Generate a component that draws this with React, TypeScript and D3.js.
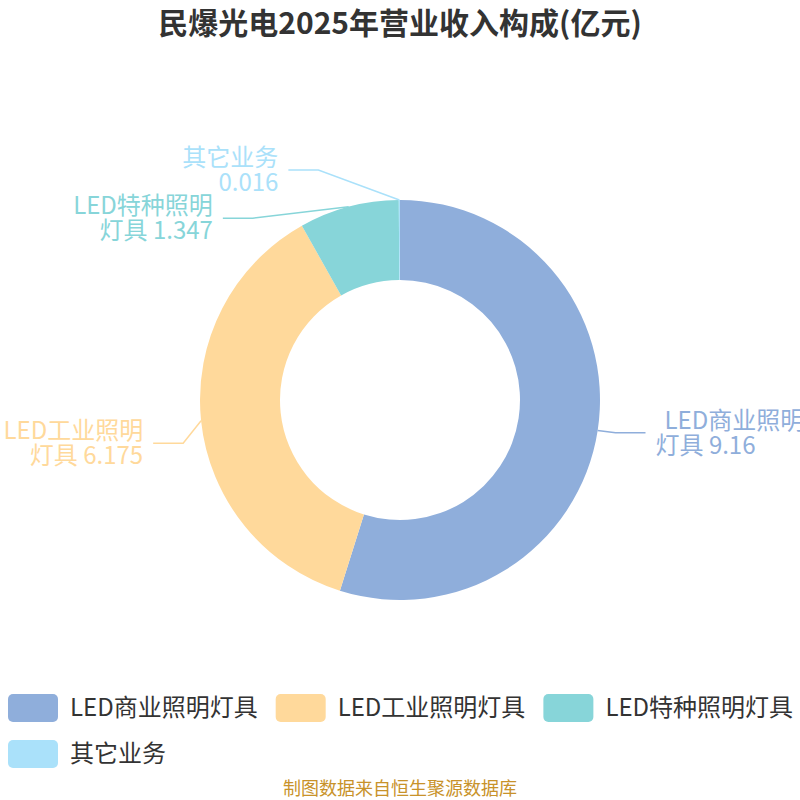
import React, { useEffect, useRef } from 'react';
import * as d3 from 'd3';

const categories = ['LED商业照明灯具', 'LED工业照明灯具', 'LED特种照明灯具', '其它业务'];
const values = [9.16, 6.175, 1.347, 0.016];
const labelLines = [
  ['LED商业照明', '灯具 9.16'],
  ['LED工业照明', '灯具 6.175'],
  ['LED特种照明', '灯具 1.347'],
  ['其它业务', '0.016'],
];
const colors = ['#8FAEDB', '#FFD99B', '#87D5D9', '#AAE1FA'];
// label layout nudges (dx, dy) applied to the leader-line elbow, like the chart lib's overlap shifting
const labelNudge: [number, number][] = [[3, 0], [-3, 21], [-92, 26], [-81, -15]];

const FONT = '"Noto Sans CJK SC", "Noto Sans", sans-serif';

export default function App() {
  const svgRef = useRef<SVGSVGElement>(null);

  useEffect(() => {
    if (!svgRef.current) return;
    const width = 800;
    const height = 800;
    const svg = d3.select(svgRef.current);
    svg.selectAll('*').remove();
    svg.attr('width', width).attr('height', height).attr('viewBox', [0, 0, width, height]);

    svg.append('rect').attr('width', width).attr('height', height).attr('fill', '#fff');

    // Title
    svg.append('text')
      .attr('x', width / 2)
      .attr('y', 23)
      .attr('dy', '0.35em')
      .attr('text-anchor', 'middle')
      .attr('font-family', FONT)
      .attr('font-weight', 'bold')
      .attr('font-size', 30)
      .attr('fill', '#333')
      .text('民爆光电2025年营业收入构成(亿元)');

    const cx = 400;
    const cy = 400;
    const outerR = 200;
    const innerR = 120;

    const pie = d3.pie<number>().sort(null).value(d => d);
    const arcs = pie(values);
    const arc = d3.arc<d3.PieArcDatum<number>>().innerRadius(innerR).outerRadius(outerR);

    const g = svg.append('g').attr('transform', `translate(${cx},${cy})`);
    g.selectAll('path.slice')
      .data(arcs)
      .enter()
      .append('path')
      .attr('class', 'slice')
      .attr('d', arc)
      .attr('fill', (_, i) => colors[i]);

    // Labels with leader lines
    arcs.forEach((a, i) => {
      const mid = (a.startAngle + a.endAngle) / 2;
      const sx = Math.sin(mid);
      const sy = -Math.cos(mid);
      const p0: [number, number] = [outerR * sx, outerR * sy];
      const p1: [number, number] = [
        (outerR + 15) * sx + labelNudge[i][0],
        (outerR + 15) * sy + labelNudge[i][1],
      ];
      const right = sx >= 0 && i === 0;
      const p2: [number, number] = [p1[0] + (right ? 30 : -30), p1[1]];
      g.append('path')
        .attr('d', d3.line()([p0, p1, p2]))
        .attr('fill', 'none')
        .attr('stroke', colors[i])
        .attr('stroke-width', 1.5);

      const t = g.append('text')
        .attr('font-family', FONT)
        .attr('font-size', 24)
        .attr('fill', colors[i])
        .attr('text-anchor', right ? 'start' : 'end');
      const tx = p2[0] + (right ? 10 : -10);
      labelLines[i].forEach((line, j) => {
        t.append('tspan')
          .attr('x', tx + (right && j === 0 ? 9 : 0))
          .attr('y', p1[1] + (j - 0.5) * 25)
          .attr('dy', '0.35em')
          .text(line);
      });
    });

    // Legend
    const legend = svg.append('g');
    let lx = 8;
    let ly = 694;
    const itemGap = 18;
    categories.forEach((name, i) => {
      const item = legend.append('g');
      const txt = item.append('text')
        .attr('font-family', FONT)
        .attr('font-size', 24)
        .attr('fill', '#333')
        .attr('dy', '0.35em')
        .text(name);
      const tw = (txt.node() as SVGTextElement).getComputedTextLength();
      const w = 50 + 12 + tw;
      if (lx + w > width && lx > 8) {
        lx = 8;
        ly += 46;
      }
      item.attr('transform', `translate(${lx},${ly})`);
      item.insert('rect', 'text')
        .attr('width', 50)
        .attr('height', 28)
        .attr('rx', 5)
        .attr('fill', colors[i]);
      txt.attr('x', 62).attr('y', 14);
      lx += w + itemGap;
    });

    // Source
    svg.append('text')
      .attr('x', width / 2)
      .attr('y', 789)
      .attr('dy', '0.35em')
      .attr('text-anchor', 'middle')
      .attr('font-family', FONT)
      .attr('font-size', 18)
      .attr('fill', '#C8922A')
      .text('制图数据来自恒生聚源数据库');
  }, []);

  return (
    <div style={{ position: 'absolute', left: 0, top: 0 }}>
      <svg ref={svgRef} style={{ display: 'block' }} />
    </div>
  );
}
